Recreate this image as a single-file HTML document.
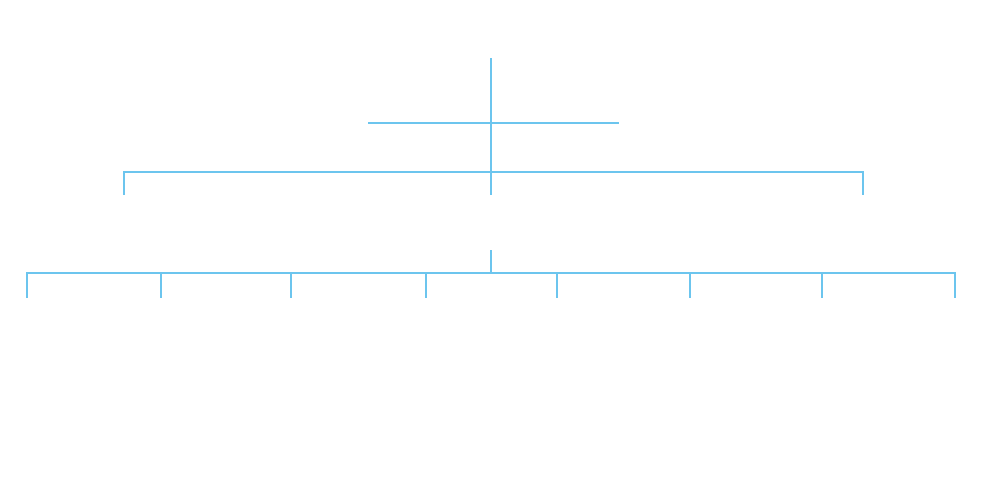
<!DOCTYPE html>
<html>
<head>
<meta charset="utf-8">
<style>
html,body{margin:0;padding:0;background:#fff;}
svg{display:block;}
</style>
</head>
<body>
<svg width="981" height="479" viewBox="0 0 981 479" xmlns="http://www.w3.org/2000/svg">
<rect width="981" height="479" fill="#ffffff"/>
<g fill="#6cc5ee">
  <!-- main vertical -->
  <rect x="490" y="58" width="2" height="137"/>
  <!-- short horizontal -->
  <rect x="368" y="122" width="251" height="2"/>
  <!-- top bar -->
  <rect x="123" y="171" width="741" height="2"/>
  <rect x="123" y="171" width="2" height="24"/>
  <rect x="862" y="171" width="2" height="24"/>
  <!-- stub -->
  <rect x="490" y="250" width="2" height="23"/>
  <!-- bottom bar -->
  <rect x="26" y="272" width="930" height="2"/>
  <rect x="26" y="272" width="2" height="26"/>
  <rect x="160" y="272" width="2" height="26"/>
  <rect x="290" y="272" width="2" height="26"/>
  <rect x="425" y="272" width="2" height="26"/>
  <rect x="556" y="272" width="2" height="26"/>
  <rect x="689" y="272" width="2" height="26"/>
  <rect x="821" y="272" width="2" height="26"/>
  <rect x="954" y="272" width="2" height="26"/>
</g>
</svg>
</body>
</html>
